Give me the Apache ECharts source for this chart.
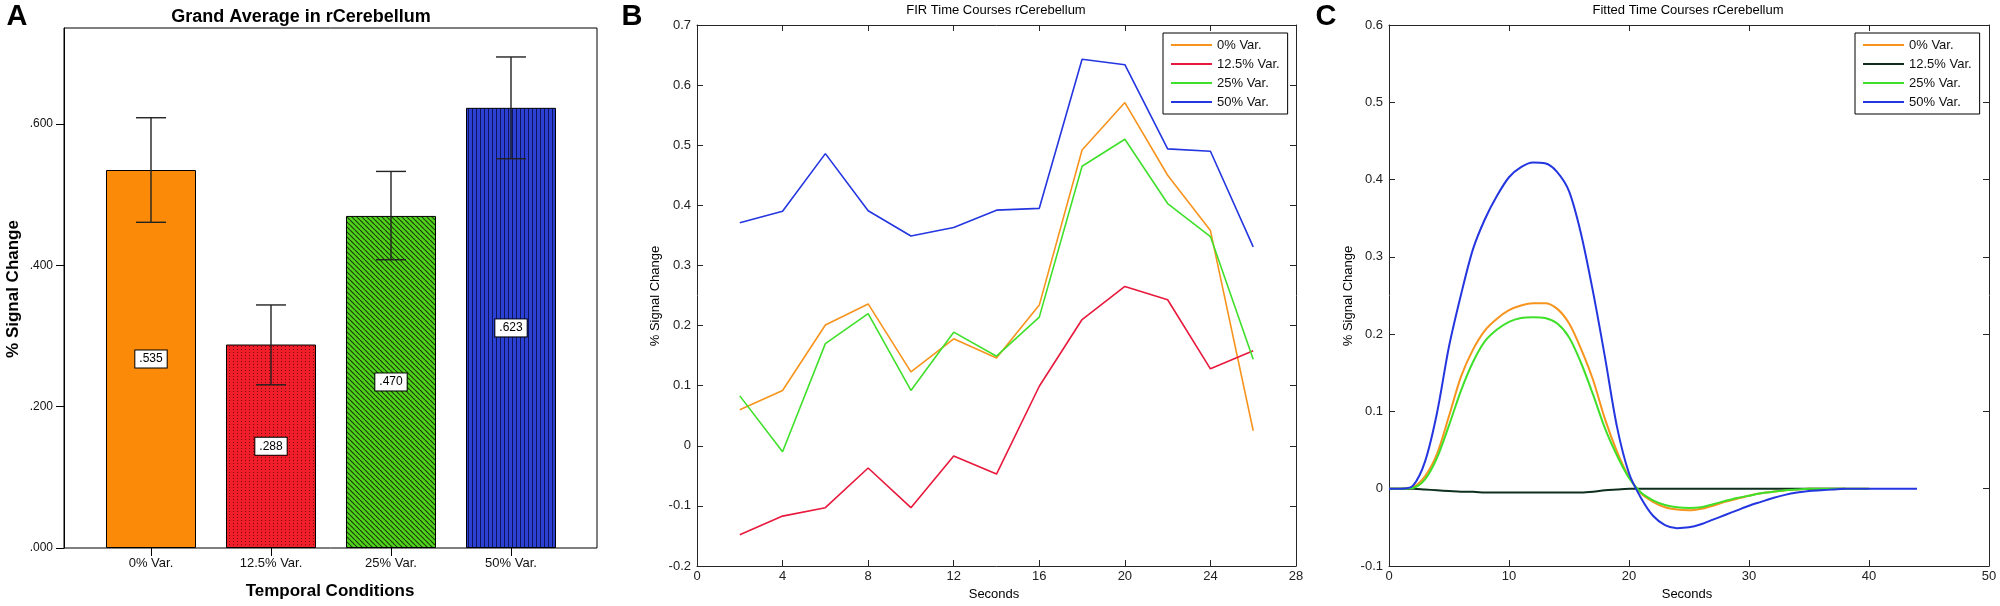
<!DOCTYPE html>
<html lang="en">
<head>
<meta charset="utf-8">
<title>rCerebellum signal change</title>
<script src="https://cdn.jsdelivr.net/npm/echarts@6/dist/echarts.min.js"></script>
<style>
    html, body {
        margin: 0;
        padding: 0;
        background: #fff;
    }
    #chart {
        width: 2000px;
        height: 606px;
    }
</style>
</head>
<body>
<div id="chart"></div>
<script>
    // panel A: grand average bars
    var barCats = ['0% Var.', '12.5% Var.', '25% Var.', '50% Var.'];
    var barMeans = [0.535, 0.288, 0.470, 0.623];
    var errLow = [0.461, 0.231, 0.408, 0.551];
    var errHigh = [0.609, 0.344, 0.533, 0.695];
    var barTicks = [0, 0.2, 0.4, 0.6];

    // panel B: FIR time courses
    var firSec = [2, 4, 6, 8, 10, 12, 14, 16, 18, 20, 22, 24, 26];
    var fir0 = [0.060, 0.092, 0.201, 0.236, 0.123, 0.178, 0.146, 0.234, 0.492, 0.571, 0.450, 0.358, 0.025];
    var fir125 = [-0.148, -0.117, -0.103, -0.037, -0.103, -0.017, -0.047, 0.099, 0.210, 0.265, 0.243, 0.128, 0.158];
    var fir25 = [0.083, -0.010, 0.170, 0.220, 0.092, 0.189, 0.149, 0.214, 0.465, 0.510, 0.403, 0.348, 0.144];
    var fir50 = [0.371, 0.390, 0.486, 0.391, 0.349, 0.363, 0.392, 0.395, 0.643, 0.634, 0.494, 0.490, 0.331];

    // panel C: fitted time courses, one value per second
    var fitSec = [0, 1, 2, 3, 4, 5, 6, 7, 8, 9, 10, 11, 12, 13, 14, 15, 16, 17, 18, 19, 20, 21, 22,
                  23, 24, 25, 26, 27, 28, 29, 30, 31, 32, 33, 34, 35, 36, 37, 38, 39, 40, 41, 42, 43, 44];
    var fit0 = [0, 0, 0.002, 0.016, 0.045, 0.094, 0.145, 0.180, 0.205, 0.220, 0.231, 0.237, 0.240, 0.240, 0.233,
                0.214, 0.181, 0.141, 0.090, 0.048, 0.015, -0.006, -0.017, -0.024, -0.027, -0.028, -0.026, -0.022,
                -0.017, -0.013, -0.009, -0.006, -0.004, -0.002, -0.001, 0, 0, 0, 0, 0, 0];
    var fit125 = [0, 0, 0, -0.001, -0.002, -0.003, -0.004, -0.004, -0.005, -0.005, -0.005, -0.005, -0.005, -0.005,
                  -0.005, -0.005, -0.005, -0.004, -0.002, -0.001, 0, 0, 0, 0, 0, 0, 0, 0, 0, 0, 0, 0, 0, 0, 0, 0,
                  0, 0, 0];
    var fit25 = [0, 0, 0.001, 0.012, 0.040, 0.082, 0.127, 0.164, 0.191, 0.206, 0.216, 0.221, 0.222, 0.221, 0.214,
                 0.196, 0.163, 0.122, 0.078, 0.043, 0.014, -0.005, -0.015, -0.021, -0.024, -0.025, -0.024, -0.020,
                 -0.016, -0.012, -0.009, -0.006, -0.004, -0.002, -0.001, 0, 0, 0, 0, 0, 0];
    var fit50 = [0, 0, 0.004, 0.035, 0.098, 0.184, 0.251, 0.310, 0.349, 0.379, 0.403, 0.416, 0.422, 0.421, 0.410,
                 0.385, 0.330, 0.255, 0.170, 0.080, 0.020, -0.012, -0.035, -0.047, -0.051, -0.050, -0.046, -0.040,
                 -0.034, -0.028, -0.022, -0.017, -0.012, -0.008, -0.005, -0.003, -0.002, -0.001, 0, 0, 0, 0, 0, 0, 0];

    var firColors = ['#F7941D', '#E8193C', '#3FE02A', '#2436E0'];
    var fitColors = ['#F7941D', '#0E2E1E', '#3FE02A', '#2436E0'];
    var fontFam = '"Liberation Sans", Arial, Helvetica, sans-serif';

    function makePattern(w, h, bg, draw) {
        var c = document.createElement('canvas');
        c.width = w;
        c.height = h;
        var ctx = c.getContext('2d');
        ctx.fillStyle = bg;
        ctx.fillRect(0, 0, w, h);
        draw(ctx, w, h);
        return c;
    }

    // SPSS style fills: plain, dotted, hatched, striped
    var barFills = [
        '#FB8A09',
        { image: makePattern(4, 3, '#F01E28', function (ctx) {
            ctx.fillStyle = '#7a0c12';
            ctx.fillRect(1, 1, 1, 1);
        }), repeat: 'repeat' },
        { image: makePattern(5, 5, '#4FD41B', function (ctx, w, h) {
            ctx.strokeStyle = '#1d3f0d';
            ctx.lineWidth = 1.2;
            for (var k = -w; k <= w; k += w) {
                ctx.beginPath();
                ctx.moveTo(k, 0);
                ctx.lineTo(k + w, h);
                ctx.stroke();
            }
        }), repeat: 'repeat' },
        { image: makePattern(4, 4, '#2C41D4', function (ctx, w, h) {
            ctx.fillStyle = '#0d1658';
            ctx.fillRect(0, 0, 1, h);
        }), repeat: 'repeat' }
    ];

    function fmtDot(v) {
        return v.toFixed(3).replace(/^0/, '');
    }

    function pairs(xs, ys) {
        return ys.map(function (y, i) { return [xs[i], y]; });
    }

    // matlab style axis: ticks inside, mirrored on the opposite side
    function mAxis(grid, pos, min, max, step, showLabel) {
        return {
            type: 'value', gridIndex: grid, position: pos,
            min: min, max: max, interval: step,
            axisLine: { show: true, onZero: false, lineStyle: { color: '#262626', width: 1 } },
            axisTick: { show: true, inside: true, length: 6, lineStyle: { color: '#262626' } },
            axisLabel: { show: showLabel, margin: (pos === 'bottom' ? 4 : 6), fontSize: 13,
                         color: '#222', fontFamily: fontFam },
            splitLine: { show: false }
        };
    }

    function label(x, y, text, font, rot) {
        return {
            type: 'text', x: x, y: y, rotation: rot || 0, silent: true,
            style: { text: text, font: font, fill: '#000',
                     textAlign: 'center', textVerticalAlign: 'middle',
                     align: 'center', verticalAlign: 'middle' }
        };
    }

    function legendFor(left, colors) {
        return {
            left: left, top: 33, orient: 'vertical',
            selectedMode: false,
            backgroundColor: '#fff', borderColor: '#000', borderWidth: 1,
            padding: [5, 8, 5, 8],
            icon: 'rect',
            itemWidth: 41, itemHeight: 2, itemGap: 5,
            textStyle: { fontSize: 13, lineHeight: 14, color: '#111', fontFamily: fontFam },
            data: barCats.map(function (n, i) {
                return { name: n, itemStyle: { color: colors[i] } };
            })
        };
    }

    var myChart = echarts.init(document.getElementById('chart'));

    var series = [
        {
            type: 'bar', xAxisIndex: 1, yAxisIndex: 1, barWidth: 90,
            data: barMeans.map(function (v, i) {
                return { value: v, itemStyle: { color: barFills[i] } };
            }),
            itemStyle: { borderColor: '#000', borderWidth: 1 },
            label: {
                show: true, position: 'inside',
                formatter: function (p) { return fmtDot(p.value); },
                backgroundColor: '#fff', borderColor: '#000', borderWidth: 1,
                padding: [3, 4, 2, 4], fontSize: 12, color: '#000', fontFamily: fontFam
            }
        },
        {
            type: 'custom', xAxisIndex: 1, yAxisIndex: 1, z: 5,
            data: barCats.map(function (c, i) { return [i, errLow[i], errHigh[i]]; }),
            renderItem: function (params, api) {
                var lo = api.coord([api.value(0), api.value(1)]);
                var hi = api.coord([api.value(0), api.value(2)]);
                var w = 15;
                var st = { stroke: '#222', lineWidth: 1.4 };
                return { type: 'group', children: [
                    { type: 'line', shape: { x1: lo[0], y1: lo[1], x2: hi[0], y2: hi[1] }, style: st },
                    { type: 'line', shape: { x1: hi[0] - w, y1: hi[1], x2: hi[0] + w, y2: hi[1] }, style: st },
                    { type: 'line', shape: { x1: lo[0] - w, y1: lo[1], x2: lo[0] + w, y2: lo[1] }, style: st }
                ] };
            }
        }
    ];

    [fir0, fir125, fir25, fir50].forEach(function (arr, k) {
        series.push({
            type: 'line', name: barCats[k], xAxisIndex: 2, yAxisIndex: 2,
            data: pairs(firSec, arr), symbol: 'none',
            lineStyle: { color: firColors[k], width: 1.6 },
            itemStyle: { color: firColors[k] }
        });
    });

    [fit0, fit125, fit25, fit50].forEach(function (arr, k) {
        series.push({
            type: 'line', name: barCats[k], xAxisIndex: 4, yAxisIndex: 4,
            data: pairs(fitSec, arr), symbol: 'none',
            smooth: 0.3,
            lineStyle: { color: fitColors[k], width: 2 },
            itemStyle: { color: fitColors[k] }
        });
    });

    var option = {
        backgroundColor: '#fff',
        animation: false,
        grid: [
            { left: 64, top: 28, width: 533, height: 520, show: true, borderColor: '#000', borderWidth: 1 },
            { left: 91, top: 28, width: 480, height: 520 },
            { left: 697, top: 25, right: 704, bottom: 40 },
            { left: 1389, top: 25, right: 11, bottom: 40 }
        ],
        xAxis: [
            { type: 'value', gridIndex: 0, show: false },
            {
                type: 'category', gridIndex: 1, data: barCats,
                axisLine: { show: false },
                axisTick: { show: true, alignWithLabel: true, length: 8, lineStyle: { color: '#000' } },
                axisLabel: { margin: 9, fontSize: 13, color: '#111', fontFamily: fontFam }
            },
            mAxis(2, 'bottom', 0, 28, 4, true),
            mAxis(2, 'top', 0, 28, 4, false),
            mAxis(3, 'bottom', 0, 50, 10, true),
            mAxis(3, 'top', 0, 50, 10, false)
        ],
        yAxis: [
            { type: 'value', gridIndex: 0, show: false },
            {
                type: 'value', gridIndex: 1, min: 0, max: 0.736, offset: 27,
                axisLine: { show: true, lineStyle: { color: '#000' } },
                axisTick: { show: true, length: 8, customValues: barTicks, lineStyle: { color: '#000' } },
                axisLabel: { margin: 11, fontSize: 12, color: '#111', fontFamily: fontFam,
                             customValues: barTicks, formatter: fmtDot },
                splitLine: { show: false }
            },
            mAxis(2, 'left', -0.2, 0.7, 0.1, true),
            mAxis(2, 'right', -0.2, 0.7, 0.1, false),
            mAxis(3, 'left', -0.1, 0.6, 0.1, true),
            mAxis(3, 'right', -0.1, 0.6, 0.1, false)
        ],
        legend: [legendFor(1163, firColors), legendFor(1855, fitColors)],
        graphic: [
            label(17, 17, 'A', 'bold 29px ' + fontFam),
            label(632, 17, 'B', 'bold 29px ' + fontFam),
            label(1326, 17, 'C', 'bold 29px ' + fontFam),
            label(301, 17, 'Grand Average in rCerebellum', 'bold 18px ' + fontFam),
            label(330, 591, 'Temporal Conditions', 'bold 17px ' + fontFam),
            label(13, 289, '% Signal Change', 'bold 17px ' + fontFam, Math.PI / 2),
            label(996, 10, 'FIR Time Courses rCerebellum', '13px ' + fontFam),
            label(994, 594, 'Seconds', '13px ' + fontFam),
            label(655, 296, '% Signal Change', '13px ' + fontFam, Math.PI / 2),
            label(1688, 10, 'Fitted Time Courses rCerebellum', '13px ' + fontFam),
            label(1687, 594, 'Seconds', '13px ' + fontFam),
            label(1348, 296, '% Signal Change', '13px ' + fontFam, Math.PI / 2)
        ],
        series: series
    };

    myChart.setOption(option);
</script>
</body>
</html>
